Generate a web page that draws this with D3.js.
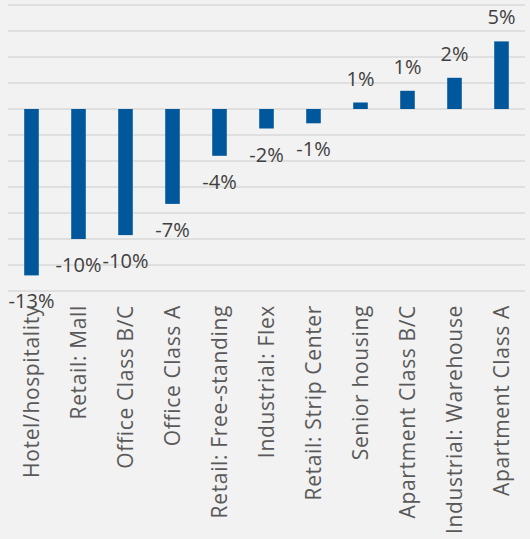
<!DOCTYPE html>
<html>
<head>
<meta charset="utf-8">
<script src="https://cdn.jsdelivr.net/npm/d3@7"></script>
<style>
  body { margin: 0; background: #f2f2f2; }
  svg { display: block; }
</style>
</head>
<body>
<div id="chart"></div>
<script>
var categories = [
  "Hotel/hospitality", "Retail: Mall", "Office Class B/C", "Office Class A",
  "Retail: Free-standing", "Industrial: Flex", "Retail: Strip Center",
  "Senior housing", "Apartment Class B/C", "Industrial: Warehouse", "Apartment Class A"
];
var values = [-12.8, -10.0, -9.7, -7.3, -3.6, -1.5, -1.1, 0.5, 1.4, 2.4, 5.2];
var valueLabels = ["-13%", "-10%", "-10%", "-7%", "-4%", "-2%", "-1%", "1%", "1%", "2%", "5%"];
var gridTicks = [8, 6, 4, 2, 0, -2, -4, -6, -8, -10, -12, -14];

var width = 530, height = 539;
var plot = { left: 8, right: 525, top: 5, bottom: 291 };
var barColor = "#01579b";
var fontFamily = "'Open Sans', sans-serif";

var svg = d3.select("#chart").append("svg")
  .attr("width", width)
  .attr("height", height);

svg.append("rect")
  .attr("width", width).attr("height", height)
  .attr("fill", "#f2f2f2");

var xScale = d3.scaleBand()
  .domain(categories)
  .range([plot.left, plot.right])
  .paddingInner(0.69)
  .paddingOuter(0.345);

var yScale = d3.scaleLinear()
  .domain([-14, 8])
  .range([plot.bottom, plot.top]);

// gridlines
svg.append("g")
  .selectAll("line")
  .data(gridTicks)
  .join("line")
  .attr("x1", plot.left)
  .attr("x2", plot.right)
  .attr("y1", (d) => yScale(d))
  .attr("y2", (d) => yScale(d))
  .attr("stroke", "#d9d9d9")
  .attr("stroke-width", 1.6);

// bars
svg.append("g")
  .selectAll("rect")
  .data(values)
  .join("rect")
  .attr("x", (d, i) => xScale(categories[i]))
  .attr("width", xScale.bandwidth())
  .attr("y", (d) => yScale(Math.max(0, d)))
  .attr("height", (d) => Math.abs(yScale(d) - yScale(0)))
  .attr("fill", barColor);

// value labels
svg.append("g")
  .selectAll("text")
  .data(values)
  .join("text")
  .attr("x", (d, i) => xScale(categories[i]) + xScale.bandwidth() / 2)
  .attr("y", (d) => d >= 0 ? yScale(d) - 17 : yScale(d) + 33)
  .attr("text-anchor", "middle")
  .style("font-family", fontFamily)
  .style("font-size", "20px")
  .attr("fill", "#404040")
  .text((d, i) => valueLabels[i]);

// category labels
svg.append("g")
  .selectAll("text")
  .data(categories)
  .join("text")
  .attr("transform", (d) =>
    "translate(" + (xScale(d) + xScale.bandwidth() / 2) + ",305) rotate(-90)")
  .attr("dy", "0.35em")
  .attr("text-anchor", "end")
  .style("font-family", fontFamily)
  .style("font-size", "21px")
  .style("letter-spacing", "0.65px")
  .attr("fill", "#595959")
  .text((d) => d);
</script>
</body>
</html>
